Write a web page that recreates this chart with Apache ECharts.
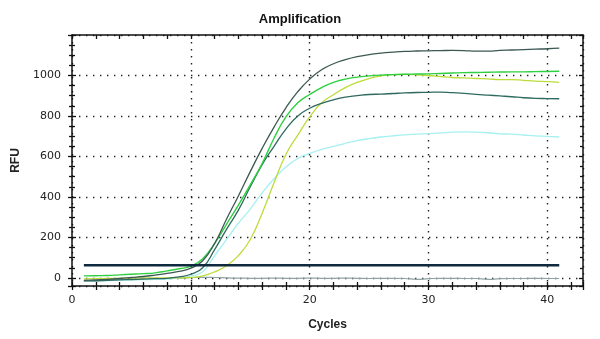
<!DOCTYPE html>
<html>
<head>
<meta charset="utf-8">
<script src="https://cdn.jsdelivr.net/npm/echarts@6/dist/echarts.min.js"></script>
<style>html,body{margin:0;padding:0;background:#fff;}#c{width:600px;height:339px;}</style>
</head>
<body>
<div id="c"></div>
<script>
var cycles = [1,2,3,4,5,6,7,8,9,10,11,12,13,14,15,16,17,18,19,20,21,22,23,24,25,26,27,28,29,30,31,32,33,34,35,36,37,38,39,40,41];
var sampleA = [-12,-10,-7,-3,2,7,14,22,32,48,85,170,290,405,525,640,745,840,920,982,1028,1058,1078,1093,1103,1110,1115,1119,1121,1122,1123,1124,1123,1120,1120,1124,1126,1128,1130,1132,1135];
var sampleB = [10,11,12,15,18,21,25,35,45,58,95,170,265,360,460,565,690,795,865,906,940,966,982,992,998,1002,1004,1006,1007,1008,1010,1012,1014,1015,1016,1017,1018,1018,1019,1020,1021];
var sampleC = [-5,-4,-3,-2,-1,0,0,0,0,2,10,30,60,110,190,320,470,610,705,795,865,905,940,966,985,998,1004,1005,1003,1000,995,990,988,985,983,980,980,976,972,970,966];
var sampleD = [-15,-14,-12,-10,-8,-6,-4,-2,5,18,50,140,240,335,450,560,650,735,800,838,862,880,893,900,906,908,911,914,916,917,918,915,912,907,903,899,895,890,887,886,885];
var sampleE = [-15,-14,-13,-12,-10,-9,-7,-5,0,10,30,110,190,270,340,420,490,548,590,615,635,650,665,678,688,696,702,707,710,713,716,720,721,720,717,712,710,706,702,699,696];
var negCtrl = [-15,-13,-11,-9,-7,-5,-4,-3,-2,2,3,2,0,-1,-2,-2,-1,-2,-2,-1,-2,-2,-1,-2,-3,-2,-2,-3,-7,-4,-2,-2,-3,-3,-7,-4,-3,-3,-2,-3,-3];
var threshold = 62;
var xTickValues = [0,10,20,30,40];
var yTickValues = [0,200,400,600,800,1000];

function pairs(arr){ return cycles.map(function(c,i){ return [c, arr[i]]; }); }

var chart = echarts.init(document.getElementById('c'), null, {renderer:'canvas'});
var font = 'Liberation Sans, Arial, sans-serif';
var tickFont = 'DejaVu Sans, Verdana, sans-serif';
var lineCol = '#111';
var gridLine = {show:true, lineStyle:{color:'#222', width:1.4, type:[1.4,5.6]}};
var gridRect = {left:72, right:17, top:35, bottom:53, containLabel:false};
function tick(inside, len){ return {show:true, inside:inside, length:len, lineStyle:{color:lineCol, width:1.3}}; }
function xAx(opts){
  return Object.assign({type:'value', min:0, max:43, interval:10,
    axisLine:{show:false}, axisTick:{show:false}, minorTick:{show:false},
    axisLabel:{show:false}, splitLine:{show:false}}, opts);
}
function yAx(opts){
  return Object.assign({type:'value', min:-40, max:1200, splitNumber:6,
    axisLine:{show:false}, axisTick:{show:false}, minorTick:{show:false},
    axisLabel:{show:false}, splitLine:{show:false}}, opts);
}
function mtick(split, len){ return {show:true, splitNumber:split, length:len, lineStyle:{color:lineCol, width:1.3}}; }
function lineSeries(name, arr, color, w){
  return {name:name, type:'line', data:pairs(arr), smooth:0.5, symbol:'none',
    lineStyle:{color:color, width:w}, xAxisIndex:0, yAxisIndex:0, z:3};
}
var option = {
  animation:false,
  backgroundColor:'#fff',
  title:{text:'Amplification', left:'center', top:8, textStyle:{fontFamily:font, fontSize:13, fontWeight:'bold', color:'#111'}},
  grid:[Object.assign({}, gridRect), Object.assign({}, gridRect), Object.assign({}, gridRect)],
  xAxis:[
    xAx({gridIndex:0, position:'bottom', axisLine:{show:true, onZero:false, lineStyle:{color:lineCol, width:1.5}},
      axisTick:tick(false,4), minorTick:mtick(5,4),
      axisLabel:{show:true, margin:9, fontFamily:tickFont, fontSize:11, color:'#222', showMaxLabel:false,
        formatter:function(v){ return xTickValues.indexOf(v) >= 0 ? String(v) : ''; }},
      splitLine:gridLine,
      name:'Cycles', nameLocation:'middle', nameGap:33,
      nameTextStyle:{fontFamily:font, fontSize:12, fontWeight:'bold', color:'#222'}}),
    xAx({gridIndex:1, position:'bottom', axisLine:{show:false, onZero:false},
      axisTick:tick(true,4), minorTick:mtick(5,4)}),
    xAx({gridIndex:2, position:'top', axisLine:{show:true, onZero:false, lineStyle:{color:lineCol, width:1.5}},
      axisTick:tick(true,4), minorTick:mtick(5,4)})
  ],
  yAxis:[
    yAx({gridIndex:0, position:'left', axisLine:{show:true, onZero:false, lineStyle:{color:lineCol, width:1.5}},
      axisTick:tick(false,4), minorTick:mtick(4,3),
      axisLabel:{show:true, margin:11, fontFamily:tickFont, fontSize:11, color:'#222', showMinLabel:false, showMaxLabel:false,
        formatter:function(v){ return yTickValues.indexOf(v) >= 0 ? String(v) : ''; }},
      splitLine:gridLine,
      name:'RFU', nameLocation:'middle', nameGap:47, nameRotate:90,
      nameTextStyle:{fontFamily:font, fontSize:12, fontWeight:'bold', color:'#222'}}),
    yAx({gridIndex:1, position:'left', axisLine:{show:false, onZero:false},
      axisTick:tick(true,4), minorTick:mtick(4,3)}),
    yAx({gridIndex:2, position:'right', axisLine:{show:true, onZero:false, lineStyle:{color:lineCol, width:1.5}},
      axisTick:tick(true,4), minorTick:mtick(4,3)})
  ],
  series:[
    lineSeries('NC', negCtrl, '#8fa3a3', 1.2),
    lineSeries('E', sampleE, '#a6f0f0', 1.3),
    lineSeries('C', sampleC, '#bcdc3c', 1.3),
    lineSeries('D', sampleD, '#2f6a60', 1.3),
    lineSeries('B', sampleB, '#2ed040', 1.4),
    lineSeries('A', sampleA, '#3c5853', 1.3),
    {name:'Threshold', type:'line', data:[[1,threshold],[41,threshold]], symbol:'none', xAxisIndex:0, yAxisIndex:0, z:4,
      lineStyle:{color:'#0f2a3e', width:2.5}},
    {type:'line', data:[], xAxisIndex:1, yAxisIndex:1},
    {type:'line', data:[], xAxisIndex:2, yAxisIndex:2}
  ]
};
chart.setOption(option);
</script>
</body>
</html>
